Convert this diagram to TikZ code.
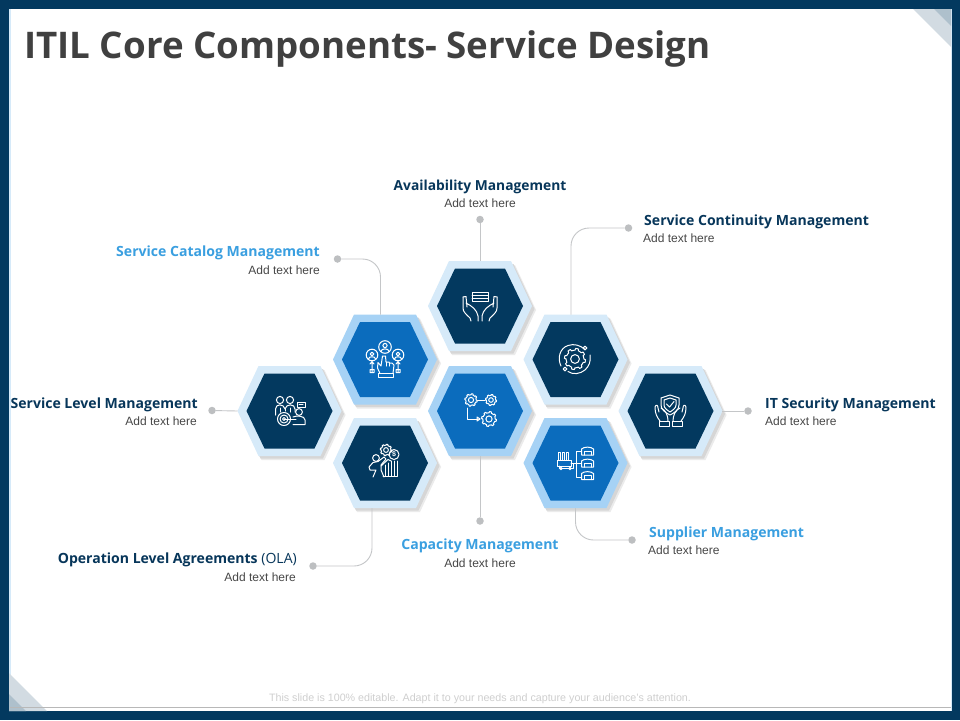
\documentclass[tikz,border=0pt]{standalone}
\usepackage{fontspec}
\setmainfont{Liberation Sans}
\newfontfamily\headfont{Open Sans}
\usetikzlibrary{calc}
\definecolor{navy}{HTML}{03395F}
\definecolor{royal}{HTML}{0B6CBD}
\definecolor{ringpale}{HTML}{D6EAF9}
\definecolor{ringsky}{HTML}{A6D2F5}
\definecolor{skytext}{HTML}{3A9FE0}
\definecolor{navytext}{HTML}{07365A}
\definecolor{leader}{HTML}{C4C6C8}
\tikzset{
  hexbox/.style={minimum width=104pt,minimum height=90pt,inner sep=0pt,outer sep=0pt},
  leaderline/.style={draw=leader,line width=0.9pt,rounded corners=18pt},
  leaderdot/.style={circle,fill=leader!90!gray,minimum size=7.5pt,inner sep=0pt},
  headnavy/.style={inner sep=0pt,text=navytext,font=\headfont\bfseries\fontsize{14.05}{16}\selectfont},
  headsky/.style={inner sep=0pt,text=skytext,font=\headfont\bfseries\fontsize{14.05}{16}\selectfont},
  subtext/.style={inner sep=0pt,text=black!72,font=\fontsize{12}{14}\selectfont},
  icon/.style={draw=white,line width=1pt,line join=round,line cap=round},
}
\newcommand{\hexa}[5]{%
  \begin{scope}[shift={(#2,#3)}]
    \fill[black!8] (-49,4) -- (-28,49) -- (35,49) -- (56,4) -- (35,-41) -- (-28,-41) -- cycle;
    \fill[black!16] (-50,3) -- (-29,47.5) -- (33.5,47.5) -- (54.5,3) -- (33.5,-42) -- (-29,-42) -- cycle;
    \fill[#5] (-52,0) -- (-31,45) -- (31,45) -- (52,0) -- (31,-45) -- (-31,-45) -- cycle;
    \fill[#4] (-43,0) -- (-25,37.5) -- (25,37.5) -- (43,0) -- (25,-37.5) -- (-25,-37.5) -- cycle;
  \end{scope}
  \node[hexbox] (#1) at (#2,#3) {};
}
\newcommand{\gearshape}[3]{%
  \draw[icon] plot[domain=0:360,samples=97] ({#1+#3*(1+0.2*ifthenelse(sin(8*\x)>0,1,0))*cos(\x)},{#2+#3*(1+0.2*ifthenelse(sin(8*\x)>0,1,0))*sin(\x)});
  \draw[icon] (#1,#2) circle[radius=#3*0.5];
}
\newcommand{\depot}[1]{%
  \draw[icon] (581.5,#1+4) -- (581.5,#1-2) .. controls (584,#1-4.5) and (591,#1-4.5) .. (593.5,#1-2) -- (593.5,#1+4) -- cycle;
  \draw[icon] (584,#1+4) -- (584,#1) -- (591,#1) -- (591,#1+4);
}
\begin{document}
\begin{tikzpicture}[x=1pt,y=-1pt]
\useasboundingbox (0,0) rectangle (960,720);
\fill[navy] (0,0) rectangle (960,720);
\fill[ringpale] (9,9) rectangle (952,711);
\fill[white] (10.5,9) rectangle (950.5,711);
\fill[navy] (0,711) rectangle (960,720);
% corners
\fill[navy!18] (913,9) -- (951,9) -- (951,47) -- cycle;
\fill[navy!32] (934,9) -- (951,9) -- (951,26) -- cycle;
\fill[navy!18] (9,673) -- (47,711) -- (9,711) -- cycle;
\fill[navy!32] (9,694) -- (26,711) -- (9,711) -- cycle;
\draw[black!28,line width=0.8pt] (10,707.5) -- (951,707.5);
% title
\node[anchor=base west,inner sep=0pt,text=black!75,font=\headfont\bfseries\fontsize{36.7}{44}\selectfont] (title) at (24,58) {ITIL Core Components- Service Design};
\node[inner sep=0pt,text=black!19,font=\fontsize{10.7}{12}\selectfont] (foot) at (480,698.5) {This slide is 100\% editable. Adapt it to your needs and capture your audience's attention.};
% leaders
\node[leaderdot] (dA) at (480,219.5) {};
\node[leaderdot] (dB) at (628.5,228) {};
\node[leaderdot] (dC) at (337.5,259) {};
\node[leaderdot] (dD) at (212,410.5) {};
\node[leaderdot] (dE) at (748,411) {};
\node[leaderdot] (dF) at (313,566) {};
\node[leaderdot] (dG) at (480,521) {};
\node[leaderdot] (dH) at (632,540) {};
% hexagons
\hexa{hA}{480}{306}{navy}{ringpale}
\hexa{hC}{385}{359.5}{royal}{ringsky}
\hexa{hB}{575.5}{359.5}{navy}{ringpale}
\hexa{hD}{289.5}{411}{navy}{ringpale}
\hexa{hE}{670.5}{411}{navy}{ringpale}
\hexa{hG}{480}{411}{royal}{ringsky}
\hexa{hF}{385}{463}{navy}{ringpale}
\hexa{hH}{575.5}{463}{royal}{ringsky}
\draw[leaderline] (dA) -- (hA.north);
\draw[leaderline] (dB) -| ([xshift=-4.5pt]hB.north);
\draw[leaderline] (dC) -| ([xshift=-4.5pt]hC.north);
\draw[leaderline] (dD) -- (hD.west);
\draw[leaderline] (dE) -- ([xshift=-1pt]hE.east);
\draw[leaderline] (dF) -| ([xshift=-13pt]hF.south);
\draw[leaderline] (dG) -- (hG.south);
\draw[leaderline] (dH) -| ([xshift=0pt]hH.south);
% labels
\node[headnavy,font=\headfont\bfseries\fontsize{13.8}{16}\selectfont] (tA) at (480,186.5) {Availability Management};
\node[subtext] (sA) at (480,203) {Add text here};
\node[headnavy,anchor=west] (tB) at (644,221.5) {Service Continuity Management};
\node[subtext,anchor=west] (sB) at (643,238) {Add text here};
\node[headsky,anchor=east] (tC) at (320,252.5) {Service Catalog Management};
\node[subtext,anchor=east] (sC) at (320,270) {Add text here};
\node[headnavy,anchor=east] (tD) at (198,404.5) {Service Level Management};
\node[subtext,anchor=east] (sD) at (197,421.5) {Add text here};
\node[headnavy,anchor=west] (tE) at (765,404.5) {IT Security Management};
\node[subtext,anchor=west] (sE) at (765,421.5) {Add text here};
\node[headnavy,anchor=east] (tF) at (297,559.5) {Operation Level Agreements {\mdseries (OLA)}};
\node[subtext,anchor=east] (sF) at (296,577) {Add text here};
\node[headsky] (tG) at (480,545.5) {Capacity Management};
\node[subtext] (sG) at (480,563) {Add text here};
\node[headsky,anchor=west] (tH) at (649,533.5) {Supplier Management};
\node[subtext,anchor=west] (sH) at (648,550) {Add text here};
% icon A: hands and card
\draw[icon] (472,292) rectangle (488,301.5) (472,295) -- (488,295) (472,298) -- (488,298);
\draw[icon] (463,297) -- (463,308) .. controls (463,312) and (466,314) .. (470,318) -- (471,321);
\draw[icon] (463,297) -- (466,296.5) -- (467,307) (466,303) .. controls (472,306) and (477,310) .. (478,316) -- (478,321);
\draw[icon] (497,297) -- (497,308) .. controls (497,312) and (494,314) .. (490,318) -- (489,321);
\draw[icon] (497,297) -- (494,296.5) -- (493,307) (494,303) .. controls (488,306) and (483,310) .. (482,316) -- (482,321);
% icon C: people and pointing hand
\draw[icon] (385,347) circle[radius=6.3] (372,355) circle[radius=5.8] (398,355) circle[radius=5.8];
\draw[icon] (385,345.5) circle[radius=2.1] (372,354) circle[radius=1.9] (398,354) circle[radius=1.9];
\draw[icon] (381,351.5) .. controls (381,348) and (389,348) .. (389,351.5);
\draw[icon] (368.5,359) .. controls (368.5,356) and (375.5,356) .. (375.5,359);
\draw[icon] (394.5,359) .. controls (394.5,356) and (401.5,356) .. (401.5,359);
\draw[icon] (378.5,377) rectangle (393,373.5);
\draw[icon] (380,373.5) -- (377.5,368) -- (378,362.5) -- (381,366) -- (382.5,356) -- (385.5,356) -- (386,362) -- (389,362) -- (389.5,363) -- (392,363) -- (394,365) -- (393,373.5);
\draw[icon] (386,362) -- (386,366) (389.5,363) -- (389.5,366);
\draw[icon] (372,362) -- (372,372) (370,364) -- (372,361.5) -- (374,364) (370,369.5) rectangle (374,372.5);
\draw[icon] (398,362) -- (398,372) (396,364) -- (398,361.5) -- (400,364) (396,369.5) rectangle (400,372.5);
% icon B: orbiting gear
\gearshape{575}{359}{8.8}
\draw[icon] (585,349.5) .. controls (580,345) and (574,343.5) .. (568,345.5) .. controls (560,348) and (557,358) .. (561,366);
\draw[icon] (568,371.5) .. controls (573,375) and (580,374) .. (585,370) .. controls (589,366) and (591,362) .. (590,355);
\draw[icon] (585,348) circle[radius=1.9] (565,369) circle[radius=1.9];
% icon D: team and target
\draw[icon] (280,400) circle[radius=3.6] (290,400) circle[radius=3.6];
\draw[icon] (275.5,415) -- (275.5,409) .. controls (275.5,403.5) and (284,403.5) .. (285,409) .. controls (286,403.5) and (295,403.5) .. (295,409) -- (295,412);
\draw[icon] (280,408) -- (280,412) (290,408) -- (290,412) (285,409) -- (285,411);
\draw[icon] (284,419) circle[radius=6.5] (284,419) circle[radius=4] (284,419) circle[radius=1.5];
\draw[icon] (284,419) -- (296,419);
\draw[icon] (299,412) circle[radius=3.4];
\draw[icon] (293,424.5) -- (305,424.5) -- (305,420) .. controls (305,415.5) and (296,415.5) .. (293,417);
\draw[icon] (297,402) rectangle (305,407) (299,404.5) -- (303,404.5);
% icon E: shield and hands
\draw[icon] (661,398) -- (670,395) -- (679,398) -- (679,405) .. controls (679,410) and (674,413) .. (670,415) .. controls (666,413) and (661,410) .. (661,405) -- cycle;
\draw[icon] (664,400) -- (670,398) -- (676,400) -- (676,405) .. controls (676,408) and (673,410) .. (670,412) .. controls (667,410) and (664,408) .. (664,405) -- cycle;
\draw[icon] (666.5,404) -- (669.5,407) -- (674,401.5);
\draw[icon] (659,426.5) rectangle (669,421.5) (672,426.5) rectangle (682,421.5);
\draw[icon] (660,421) .. controls (657,417) and (655,414) .. (655,407) .. controls (656,404) and (658,405) .. (658,408) -- (659,412) (661,408) .. controls (666,410) and (668,416) .. (668,421);
\draw[icon] (681,421) .. controls (684,417) and (686,414) .. (686,407) .. controls (685,404) and (683,405) .. (683,408) -- (682,412) (680,408) .. controls (675,410) and (673,416) .. (673,421);
% icon G: gears flow
\gearshape{471}{400}{5.2}
\gearshape{491}{400}{4.6}
\gearshape{489}{419}{6.2}
\draw[icon] (477.5,400) -- (485,400);
\draw[icon] (467,408) -- (467,419) -- (478,419);
\draw[icon] (477,417) -- (480,419) -- (477,421) -- cycle;
% icon F: person, chart, coin
\draw[icon] (376,458) circle[radius=3.4];
\gearshape{386}{450}{4.8}
\draw[icon] (394,454.5) circle[radius=5];
\node[inner sep=0pt,text=white,font=\fontsize{7}{7}\selectfont\bfseries] (coin) at (394,454.5) {\$};
\draw[icon] (373,477) -- (376,470) -- (370,470) -- (369,467) -- (373,462.5) -- (378,461.5) -- (384,457) -- (386,459) -- (381,465) -- (381,470) -- (384,477);
\draw[icon] (383,476) -- (397,476) -- (397,461);
\draw[icon] (381,466) -- (388,459.5) -- (391,461);
\draw[icon] (385,465) -- (385,476) (388,463) -- (388,476) (391,461) -- (391,476) (394,461) -- (394,476);
% icon H: factory and warehouses
\draw[icon] (558,460) -- (558,452.5) -- (560,452.5) -- (560,460) (562,460) -- (562,452.5) -- (564,452.5) -- (564,460) (566,460) -- (566,452.5) -- (568,452.5) -- (568,460);
\draw[icon] (557,460) rectangle (571,466);
\draw[icon] (559,466) -- (559,468) -- (573,468) -- (573,463) -- (571,463);
\draw[icon] (561,468.5) circle[radius=1.2] (570,468.5) circle[radius=1.2];
\depot{451}
\depot{463}
\depot{475.5}
\draw[icon] (581,451) -- (576,451) -- (576,477) -- (581,477) (573,463) -- (581,463);
\end{tikzpicture}
\end{document}
